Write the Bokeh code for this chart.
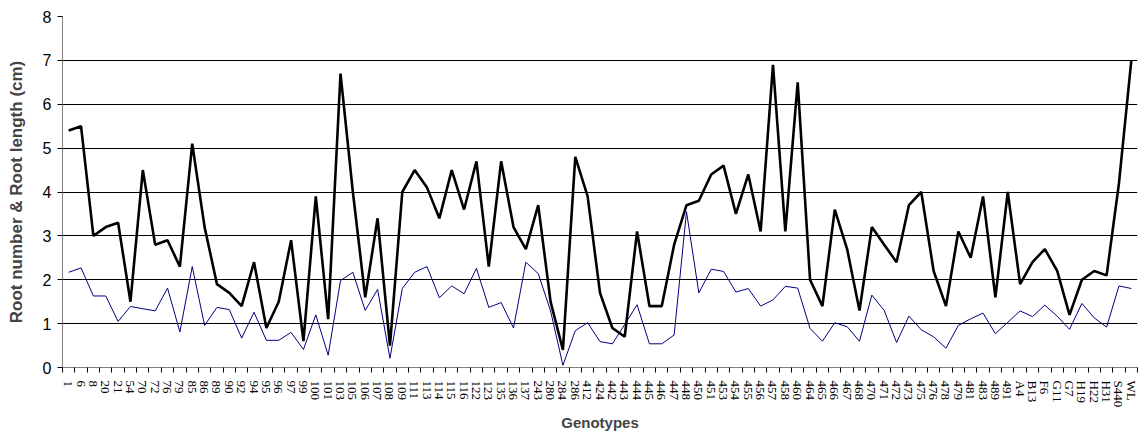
import math
from bokeh.plotting import figure
from bokeh.models import FixedTicker, Range1d
from bokeh.embed import file_html
from bokeh.resources import INLINE

genotypes = ["1", "6", "8", "20", "21", "54", "70", "72", "76", "79",
             "85", "86", "89", "90", "92", "94", "95", "96", "97", "99",
             "100", "101", "103", "105", "106", "107", "108", "109", "111", "113",
             "114", "115", "116", "122", "123", "135", "136", "137", "243", "280",
             "284", "286", "412", "424", "442", "443", "444", "445", "446", "447",
             "448", "450", "451", "453", "454", "455", "456", "457", "458", "460",
             "464", "465", "466", "467", "468", "470", "471", "472", "473", "475",
             "476", "478", "479", "481", "483", "489", "491", "A4", "B13", "F6",
             "G11", "G7", "H19", "H22", "H31", "S440", "WL"]

root_length = [5.4, 5.5, 3.0, 3.2, 3.3, 1.5, 4.5, 2.8, 2.9, 2.3,
               5.1, 3.2, 1.9, 1.7, 1.4, 2.4, 0.9, 1.5, 2.9, 0.6,
               3.9, 1.1, 6.7, 4.0, 1.6, 3.4, 0.5, 4.0, 4.5, 4.1,
               3.4, 4.5, 3.6, 4.7, 2.3, 4.7, 3.2, 2.7, 3.7, 1.5,
               0.4, 4.8, 3.9, 1.7, 0.9, 0.7, 3.1, 1.4, 1.4, 2.8,
               3.7, 3.8, 4.4, 4.6, 3.5, 4.4, 3.1, 6.9, 3.1, 6.5,
               2.0, 1.4, 3.6, 2.7, 1.3, 3.2, 2.8, 2.4, 3.7, 4.0,
               2.2, 1.4, 3.1, 2.5, 3.9, 1.6, 4.0, 1.9, 2.4, 2.7,
               2.2, 1.2, 2.0, 2.2, 2.1, 4.2, 7.0]

root_number = [2.17, 2.27, 1.63, 1.63, 1.05, 1.39, 1.34, 1.29, 1.81, 0.81,
               2.30, 0.96, 1.37, 1.32, 0.67, 1.26, 0.62, 0.62, 0.80, 0.41,
               1.20, 0.28, 1.98, 2.17, 1.30, 1.78, 0.21, 1.80, 2.17, 2.30,
               1.59, 1.86, 1.68, 2.26, 1.37, 1.48, 0.90, 2.40, 2.14, 1.29,
               0.05, 0.84, 1.02, 0.59, 0.54, 0.98, 1.43, 0.54, 0.54, 0.74,
               3.55, 1.70, 2.24, 2.19, 1.72, 1.80, 1.40, 1.54, 1.85, 1.81,
               0.89, 0.60, 1.02, 0.93, 0.60, 1.65, 1.30, 0.57, 1.17, 0.86,
               0.70, 0.44, 0.96, 1.11, 1.24, 0.77, 1.03, 1.29, 1.16, 1.42,
               1.17, 0.87, 1.46, 1.13, 0.92, 1.86, 1.80]

y_ticks = [0, 1, 2, 3, 4, 5, 6, 7, 8]

n = len(genotypes)
xs = [i + 0.5 for i in range(n)]

p = figure(width=1144, height=435, output_backend="svg", toolbar_location=None,
           x_range=Range1d(0, n), y_range=Range1d(0, 8),
           min_border_left=62, min_border_right=7, min_border_top=16, min_border_bottom=68)
p.outline_line_color = None
p.background_fill_color = "white"

p.line(xs, root_number, line_color="#000080", line_width=1)
p.line(xs, root_length, line_color="black", line_width=2.6)

# x axis: labels at category centres, ticks at boundaries
p.xaxis.ticker = FixedTicker(ticks=xs, minor_ticks=list(range(n + 1)))
p.xaxis.major_label_overrides = {x: g for x, g in zip(xs, genotypes)}
p.xaxis.major_tick_out = 0
p.xaxis.major_tick_in = 0
p.xaxis.minor_tick_out = 5
p.xaxis.minor_tick_in = 0
p.xaxis.minor_tick_line_color = "black"
p.xaxis.axis_line_color = "#808080"
p.xaxis.major_label_orientation = -math.pi / 2
p.xaxis.major_label_text_font = "'Liberation Serif', serif"
p.xaxis.major_label_text_font_size = "13px"
p.xaxis.major_label_text_color = "black"
p.xaxis.major_label_standoff = 8
p.xaxis.axis_label = "Genotypes"
p.xaxis.axis_label_text_font = "Liberation Sans"
p.xaxis.axis_label_text_font_style = "bold"
p.xaxis.axis_label_text_font_size = "15px"
p.xaxis.axis_label_standoff = 4

p.yaxis.ticker = FixedTicker(ticks=y_ticks, minor_ticks=[])
p.yaxis.major_tick_out = 5
p.yaxis.major_tick_in = 0
p.yaxis.major_tick_line_color = "black"
p.yaxis.axis_line_color = "#808080"
p.yaxis.major_label_text_font = "Liberation Sans"
p.yaxis.major_label_text_font_size = "16px"
p.yaxis.major_label_text_color = "black"
p.yaxis.major_label_standoff = 6
p.yaxis.axis_label = "Root number & Root length (cm)"
p.yaxis.axis_label_text_font = "Liberation Sans"
p.yaxis.axis_label_text_font_style = "bold"
p.yaxis.axis_label_text_font_size = "17px"
p.yaxis.axis_label_standoff = 14

p.xgrid.visible = False
p.ygrid.ticker = FixedTicker(ticks=[1, 2, 3, 4, 5, 6, 7, 8])
p.ygrid.grid_line_color = "black"
p.ygrid.grid_line_width = 1

open("out.html", "w").write(file_html(p, INLINE))
